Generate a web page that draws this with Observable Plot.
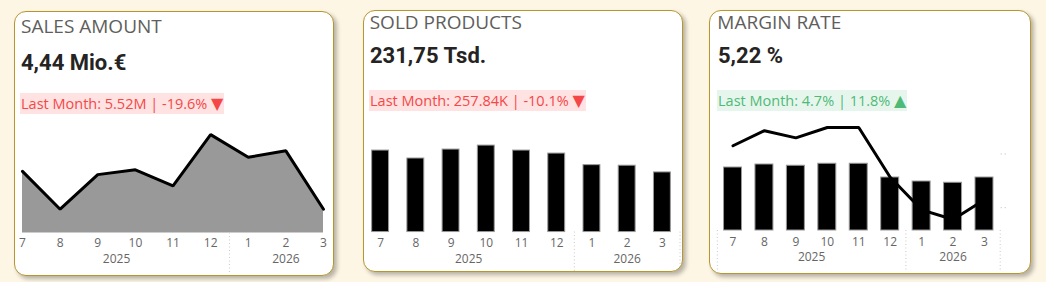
<!DOCTYPE html>
<html>
<head>
<meta charset="utf-8">
<script src="https://cdn.jsdelivr.net/npm/d3@7"></script>
<script src="https://cdn.jsdelivr.net/npm/@observablehq/plot@0.6"></script>
<style>
  html, body { margin: 0; padding: 0; }
  body { width: 1046px; height: 282px; background: #fdf6e4; position: relative; overflow: hidden; font-family: "Open Sans", sans-serif; }
  .card { position: absolute; background: #fff; border: 1px solid #b8962e; border-radius: 12px; box-shadow: 3px 3px 4px rgba(0,0,0,0.28); overflow: hidden; }
  .title { position: absolute; font-size: 19px; line-height: 19px; color: #605e5c; white-space: nowrap; }
  .value { position: absolute; font-family: Roboto, sans-serif; font-weight: 700; font-size: 22px; line-height: 22px; color: #252423; white-space: nowrap; }
  .delta { position: absolute; font-size: 14.5px; height: 21px; line-height: 21px; padding: 0 1px; white-space: nowrap; }
  .delta .tri { font-family: "DejaVu Sans", sans-serif; font-size: 16px; vertical-align: top; }
  .delta.down { color: #f44848; background: #ffe2e2; }
  .delta.up { color: #4fba78; background: #e7f6ed; }
  .chart { position: absolute; }
  .chart svg { display: block; overflow: hidden; }
</style>
</head>
<body>
<script>
// ---- data ----
const months = [7, 8, 9, 10, 11, 12, 1, 2, 3];
const years = [2025, 2025, 2025, 2025, 2025, 2025, 2026, 2026, 2026];
const salesAmount = [5.14, 4.44, 5.08, 5.17, 4.87, 5.82, 5.40, 5.52, 4.44];          // Mio. €
const soldProducts = [316.7, 285.8, 320.6, 336.0, 316.7, 305.0, 260.0, 257.84, 231.75]; // Tsd.
const marginBars = [252, 264, 259, 267, 267, 212, 196, 191, 212];                    // bar measure
const marginRate = [6.73, 7.15, 6.95, 7.24, 7.24, 5.85, 4.94, 4.67, 5.22];            // %
const rateTicks = [5, 6.5];

const titles = ["SALES AMOUNT", "SOLD PRODUCTS", "MARGIN RATE"];
const kpiValues = ["4,44 Mio.€", "231,75 Tsd.", "5,22 %"];
const lastMonthText = ["Last Month: 5.52M | -19.6%", "Last Month: 257.84K | -10.1%", "Last Month: 4.7% | 11.8%"];
const trend = ["down", "down", "up"];

// ---- derived ----
const rows = months.map((m, i) => ({
  i, month: m, year: years[i],
  sales: salesAmount[i], sold: soldProducts[i], bar: marginBars[i], rate: marginRate[i]
}));
const idx = rows.map(d => d.i);
const yearGroups = d3.groups(rows, d => d.year).map(([year, rs]) => ({
  year,
  center: d3.mean(rs, r => r.i),
  start: d3.min(rs, r => r.i) - 0.5,
  end: d3.max(rs, r => r.i) + 0.5
}));
const boundaries = [...new Set(yearGroups.flatMap(g => [g.start, g.end]))];

const axisStyle = { fontFamily: "'Open Sans', sans-serif", fontSize: "12px", color: "#666", background: "transparent", overflow: "hidden" };

function monthAxes(tpMonth, tpYear) {
  return [
    Plot.axisX({ ticks: idx, tickFormat: i => String(months[i]), tickSize: 0, tickPadding: tpMonth, fill: "#666", label: null }),
    Plot.axisX({ ticks: yearGroups.map(g => g.center), tickFormat: c => String(yearGroups.find(g => g.center === c).year), tickSize: 0, tickPadding: tpYear, fill: "#666", label: null }),
    Plot.axisX({ ticks: boundaries, tickFormat: () => "", tickSize: 40, stroke: "#c8c8c8", strokeDasharray: "1,2.5", label: null })
  ];
}

// ---- cards ----
const cards = [
  { left: 14, top: 11, w: 318, h: 263, title: [6, 4.7], value: [6, 40], delta: [5, 81] },
  { left: 363, top: 10, w: 318, h: 260, title: [5.7, 2.4], value: [6, 34], delta: [5, 79] },
  { left: 709, top: 10, w: 320, h: 262, title: [7.3, 2.4], value: [8, 34], delta: [7, 79] }
];

const cardEls = cards.map((c, k) => {
  const el = document.createElement("div");
  el.className = "card";
  Object.assign(el.style, { left: c.left + "px", top: c.top + "px", width: c.w + "px", height: c.h + "px" });
  const t = document.createElement("div");
  t.className = "title"; t.textContent = titles[k];
  Object.assign(t.style, { left: c.title[0] + "px", top: c.title[1] + "px" });
  const v = document.createElement("div");
  v.className = "value"; v.textContent = kpiValues[k];
  Object.assign(v.style, { left: c.value[0] + "px", top: c.value[1] + "px" });
  const d = document.createElement("div");
  d.className = "delta " + trend[k];
  d.append(document.createTextNode(lastMonthText[k] + " "));
  const tri = document.createElement("span");
  tri.className = "tri";
  tri.textContent = trend[k] === "down" ? "▼" : "▲";
  d.append(tri);
  Object.assign(d.style, { left: c.delta[0] + "px", top: c.delta[1] + "px" });
  el.append(t, v, d);
  document.body.appendChild(el);
  return el;
});

function place(cardEl, svg, left, top) {
  const wrap = document.createElement("div");
  wrap.className = "chart";
  wrap.style.left = left + "px";
  wrap.style.top = top + "px";
  wrap.appendChild(svg);
  cardEl.appendChild(wrap);
}

// Card 1: sales amount area
const salesBase = 4;
const chart1 = Plot.plot({
  width: 318, height: 160,
  marginLeft: 7, marginRight: 10, marginTop: 9.4, marginBottom: 42.5,
  x: { type: "linear", domain: [0, 8], label: null },
  y: { domain: [salesBase, 6], label: null, axis: null },
  style: axisStyle,
  marks: [
    Plot.areaY(rows, { x: "i", y1: salesBase, y2: "sales", fill: "#999999" }),
    Plot.lineY(rows, { x: "i", y: "sales", stroke: "#000", strokeWidth: 3, strokeLinejoin: "miter" }),
    ...monthAxes(5.7, 21)
  ]
});
place(cardEls[0], chart1, 0, 103);

// Card 2: sold products bars
const chart2 = Plot.plot({
  width: 322, height: 158,
  marginLeft: 0.5, marginRight: 2.5, marginTop: 13.7, marginBottom: 40.7,
  x: { type: "linear", domain: [-0.5, 8.5], label: null },
  y: { domain: [0, 400], label: null, axis: null },
  style: axisStyle,
  marks: [
    Plot.rectY(rows, { x1: d => d.i - 0.24, x2: d => d.i + 0.24, y: "sold", fill: "#000", stroke: "#999", strokeWidth: 1 }),
    ...monthAxes(7, 23)
  ]
});
place(cardEls[1], chart2, -2, 104);

// Card 3: margin bars + rate line on secondary axis
const barMax = 440;
const rateScale = d3.scaleLinear().domain([4.3625, 7.435]).range([0, barMax]);
const chart3 = Plot.plot({
  width: 320, height: 158,
  marginLeft: 6.8, marginRight: 30.3, marginTop: 5, marginBottom: 43,
  x: { type: "linear", domain: [-0.5, 8.5], label: null },
  y: { domain: [0, barMax], label: null },
  style: axisStyle,
  marks: [
    Plot.rectY(rows, { x1: d => d.i - 0.286, x2: d => d.i + 0.286, y: "bar", fill: "#000", stroke: "#999", strokeWidth: 1 }),
    Plot.lineY(rows, { x: "i", y: d => rateScale(d.rate), stroke: "#000", strokeWidth: 3, strokeLinejoin: "miter" }),
    Plot.axisY({ anchor: "right", ticks: rateTicks.map(rateScale), tickFormat: () => "", tickSize: 6, stroke: "#bbb", strokeDasharray: "1,3", label: null }),
    ...monthAxes(7, 22)
  ]
});
place(cardEls[2], chart3, 0, 104);
</script>
</body>
</html>
